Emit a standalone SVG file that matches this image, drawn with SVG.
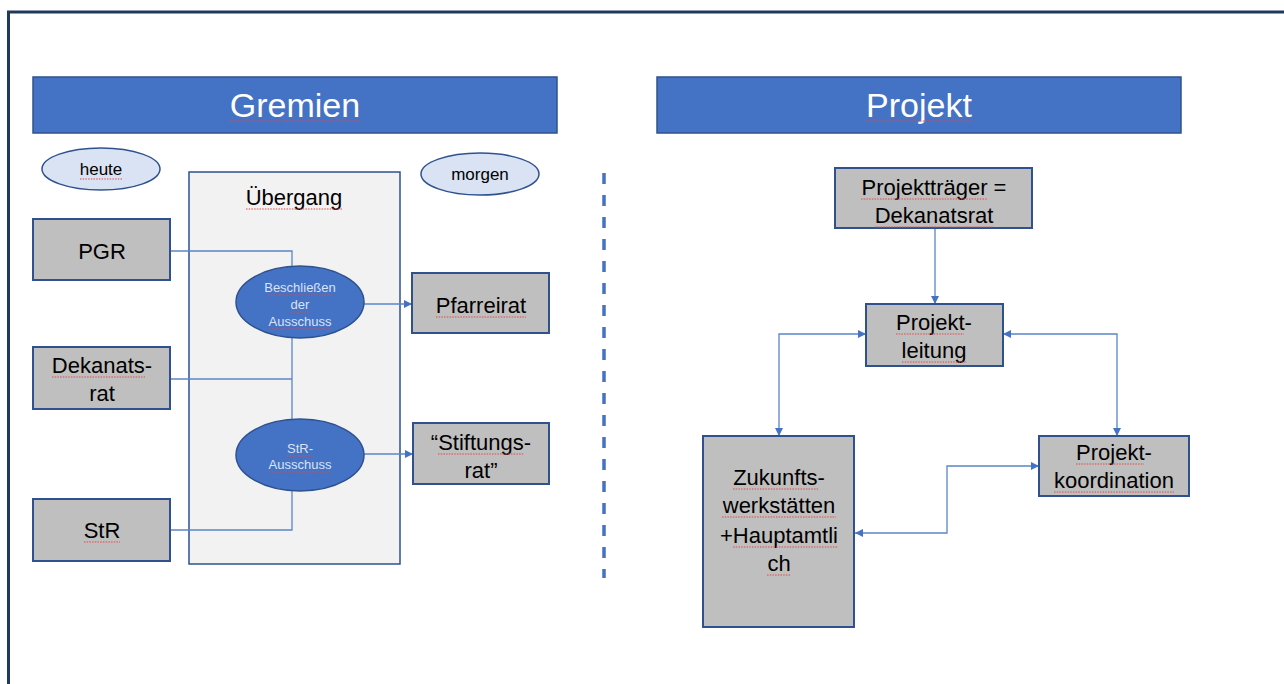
<svg xmlns="http://www.w3.org/2000/svg" width="1284" height="684" viewBox="0 0 1284 684">
<style>
  text{font-family:"Liberation Sans",Arial,sans-serif;text-anchor:middle;}
  .t{font-size:22px;fill:#000;}
  .title{font-size:34px;fill:#fff;}
  .small{font-size:17px;fill:#000;}
  .tiny{font-size:13px;fill:#dae3f3;}
  .bar{fill:#4472c4;stroke:#2f528f;stroke-width:1.5;}
  .box{fill:#bfbfbf;stroke:#2f528f;stroke-width:2;}
  .pale{fill:#dae3f3;stroke:#2f528f;stroke-width:1.5;}
  .blue{fill:#4472c4;stroke:#2f528f;stroke-width:1.5;}
  .frame{fill:#f2f2f2;stroke:#2f528f;stroke-width:1.5;}
  .c{fill:none;stroke:#5b84c8;stroke-width:1.3;}
  .sp{fill:none;stroke:#e04848;stroke-width:1;stroke-dasharray:1.5 1.2;}
</style>
<defs>
  <marker id="ah" viewBox="0 0 10 10" refX="10" refY="5" markerWidth="8" markerHeight="8" markerUnits="userSpaceOnUse" orient="auto-start-reverse">
    <path d="M0,0 L10,5 L0,10 z" fill="#4472c4"/>
  </marker>
</defs>
<rect width="1284" height="684" fill="#fff"/>
<path d="M8.5,690 V12 H1290" fill="none" stroke="#1f3a5c" stroke-width="3"/>

<g id="bar-gremien">
  <rect class="bar" x="33" y="77" width="524" height="56"/>
  <text class="title" x="295" y="117">Gremien</text>
  <path class="sp" d="M230,121 H360"/>
</g>
<g id="bar-projekt">
  <rect class="bar" x="657" y="77" width="524" height="56"/>
  <text class="title" x="919" y="117">Projekt</text>
  <path class="sp" d="M866,121 H972"/>
</g>

<g id="heute">
  <ellipse class="pale" cx="101" cy="169" rx="59" ry="21"/>
  <text class="small" x="101" y="175">heute</text>
  <path class="sp" d="M80,179 H122"/>
</g>
<g id="morgen">
  <ellipse class="pale" cx="480" cy="174" rx="59" ry="21"/>
  <text class="small" x="480" y="180">morgen</text>
</g>

<g id="uebergang">
  <rect class="frame" x="189" y="172" width="211" height="392"/>
  <text class="t" x="294" y="205">Übergang</text>
  <path class="sp" d="M246,209 H343"/>
</g>

<g id="connectors">
  <path class="c" d="M170,251 H292 V267"/>
  <path class="c" d="M170,379 H292"/>
  <path class="c" d="M292,338 V419"/>
  <path class="c" d="M171,530 H292 V491"/>
  <path class="c" d="M364,304 H412" marker-end="url(#ah)"/>
  <path class="c" d="M364,454 H413" marker-end="url(#ah)"/>
  <path class="c" d="M935,228 V304" marker-end="url(#ah)"/>
  <path class="c" d="M866,334 H779 V436" marker-start="url(#ah)" marker-end="url(#ah)"/>
  <path class="c" d="M1003,334 H1117 V436" marker-start="url(#ah)" marker-end="url(#ah)"/>
  <path class="c" d="M855,533 H947 V466 H1039" marker-start="url(#ah)" marker-end="url(#ah)"/>
</g>

<g id="divider">
  <path d="M604,173 V578" fill="none" stroke="#4472c4" stroke-width="3.5" stroke-dasharray="11 11"/>
</g>

<g id="pgr">
  <rect class="box" x="33" y="219" width="137" height="61"/>
  <text class="t" x="102" y="259">PGR</text>
</g>
<g id="dekanatsrat">
  <rect class="box" x="33" y="347" width="137" height="62"/>
  <text class="t" x="102" y="373">Dekanats-</text>
  <text class="t" x="102" y="401">rat</text>
  <path class="sp" d="M52,377 H145"/>
</g>
<g id="str">
  <rect class="box" x="33" y="499" width="137" height="62"/>
  <text class="t" x="102" y="538">StR</text>
  <path class="sp" d="M84,542 H120"/>
</g>

<g id="beschliessen">
  <ellipse class="blue" cx="300" cy="302" rx="64" ry="36"/>
  <text class="tiny" x="300" y="292">Beschließen</text>
  <text class="tiny" x="300" y="309">der</text>
  <text class="tiny" x="300" y="326">Ausschuss</text>
  <path class="sp" d="M268,295 H332 M291,312 H309 M269,329 H331"/>
</g>
<g id="str-ausschuss">
  <ellipse class="blue" cx="300" cy="455" rx="64" ry="36"/>
  <text class="tiny" x="300" y="453">StR-</text>
  <text class="tiny" x="300" y="469">Ausschuss</text>
  <path class="sp" d="M287,456 H313 M269,472 H331"/>
</g>

<g id="pfarreirat">
  <rect class="box" x="412" y="273" width="137" height="60"/>
  <text class="t" x="481" y="313">Pfarreirat</text>
  <path class="sp" d="M436,317 H526"/>
</g>
<g id="stiftungsrat">
  <rect class="box" x="413" y="423" width="136" height="61"/>
  <text class="t" x="481" y="450">“Stiftungs-</text>
  <text class="t" x="481" y="478">rat”</text>
  <path class="sp" d="M438,454 H524"/>
</g>

<g id="projekttraeger">
  <rect class="box" x="835" y="168" width="197" height="60"/>
  <text class="t" x="934" y="195">Projektträger =</text>
  <text class="t" x="934" y="223">Dekanatsrat</text>
  <path class="sp" d="M861,199 H987 M875,227 H993"/>
</g>
<g id="projektleitung">
  <rect class="box" x="866" y="304" width="137" height="62"/>
  <text class="t" x="934" y="330">Projekt-</text>
  <text class="t" x="934" y="358">leitung</text>
  <path class="sp" d="M896,334 H964 M902,362 H967"/>
</g>
<g id="zukunftswerkstaetten">
  <rect class="box" x="703" y="436" width="151" height="191"/>
  <text class="t" x="779" y="485">Zukunfts-</text>
  <text class="t" x="779" y="513">werkstätten</text>
  <text class="t" x="779" y="543">+Hauptamtli</text>
  <text class="t" x="779" y="571">ch</text>
  <path class="sp" d="M733,489 H818 M722,517 H836 M733,547 H838 M767,575 H791"/>
</g>
<g id="projektkoordination">
  <rect class="box" x="1039" y="436" width="150" height="60"/>
  <text class="t" x="1114" y="460">Projekt-</text>
  <text class="t" x="1114" y="488">koordination</text>
  <path class="sp" d="M1076,464 H1144 M1054,492 H1174"/>
</g>
</svg>
